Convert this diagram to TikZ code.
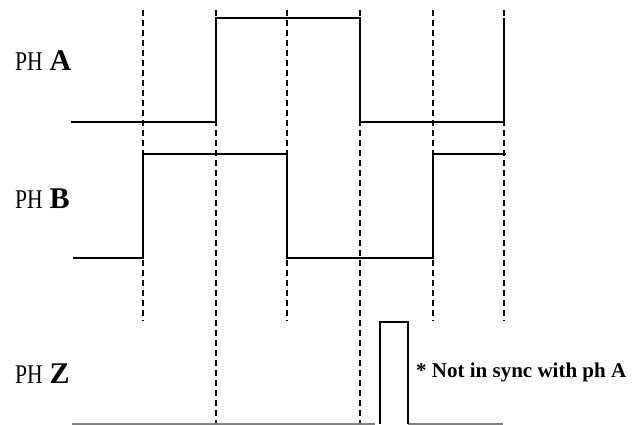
\documentclass[tikz,border=0pt]{standalone}
\usepackage{fontspec}
\setmainfont{Liberation Serif}
\usepackage{tikz}
\usepackage{xcolor}
\usetikzlibrary{positioning}

\begin{document}
\begin{tikzpicture}[x=1pt,y=-1pt,
    guide/.style={draw,line width=1.4pt,dash pattern=on 6pt off 4pt},
    wave/.style={draw,line width=1.4pt},
    zero/.style={draw,gray,line width=1.2pt},
    lbl/.style={anchor=base west,inner sep=0pt,font=\fontsize{27}{27}\selectfont},
    note/.style={anchor=base west,inner sep=0pt,font=\fontsize{21}{21}\selectfont\bfseries}]
    \useasboundingbox (0,0) rectangle (643,425);
       % labels
       \node[lbl] (ph_a) at (15,71)  {\scalebox{.8}[1]{PH} {\fontsize{30}{30}\selectfont\bfseries A}};
       \node[lbl] (ph_b) at (15,208) {\scalebox{.8}[1]{PH} {\fontsize{30}{30}\selectfont\bfseries B}};
       \node[lbl] (ph_z) at (15,383) {\scalebox{.8}[1]{PH} {\fontsize{30}{30}\selectfont\bfseries Z}};
       \node[note] (sync) at (416,377) {* Not in sync with ph A};
       % edge markers
       \foreach \x in {143,287,433,504}
        \draw[guide] (\x,10) -- (\x,321);
       \foreach \x in {216,360}
        \draw[guide] (\x,10) -- (\x,424);
       % phase A
       \draw[wave] (71,122) -- (216,122) -- (216,18) -- (360,18) -- (360,122)
        -- (504,122) -- (504,18);
       % phase B
       \draw[wave] (73,258) -- (143,258) -- (143,154) -- (287,154) -- (287,258)
        -- (433,258) -- (433,154) -- (506,154);
       % phase Z
       \draw[zero] (72,424) -- (375,424);
       \draw[zero] (408,424) -- (503,424);
       \draw[wave] (380,424) -- (380,322) -- (408,322) -- (408,424);
\end{tikzpicture}
\end{document}
